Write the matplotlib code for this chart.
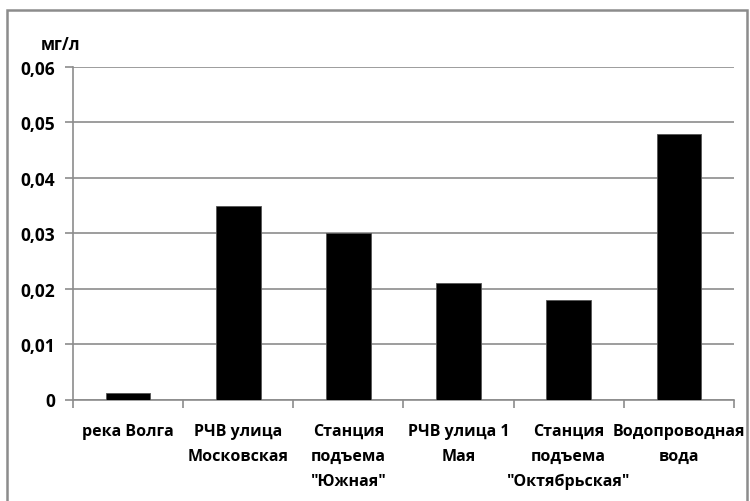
import matplotlib.pyplot as plt
import matplotlib.patches as patches
import numpy as np

# данные
places = ['река Волга', 'РЧВ улица\nМосковская', 'Станция\nподъема\n"Южная"',
          'РЧВ улица 1\nМая', 'Станция\nподъема\n"Октябрьская"', 'Водопроводная\nвода']
values = [0.0011, 0.035, 0.030, 0.021, 0.018, 0.048]
yticks = [0, 0.01, 0.02, 0.03, 0.04, 0.05, 0.06]
ytick_labels = ['0', '0,01', '0,02', '0,03', '0,04', '0,05', '0,06']

plt.rcParams['font.family'] = ['Open Sans', 'DejaVu Sans']
plt.rcParams['font.weight'] = 'bold'

fig = plt.figure(figsize=(7.5, 5.02), dpi=100)
ax = fig.add_axes([73 / 750, 1 - 400.5 / 502, (734 - 73) / 750, (400.5 - 68) / 502])

x = np.arange(len(places))
ax.bar(x, values, width=0.405, color='black', edgecolor='#555555', linewidth=0.6, zorder=3)

ax.set_xlim(-0.5, len(places) - 0.5)
ax.set_ylim(0, 0.06)
ax.set_yticks(yticks)
ax.set_yticklabels(ytick_labels, fontsize=12.5, fontweight='bold')
ax.yaxis.grid(True, color='#8c8c8c', linewidth=1.2)
ax.tick_params(axis='y', length=6, width=1.2, color='#8c8c8c', pad=7)

ax.set_xticks(x)
ax.set_xticklabels(places, fontsize=11.5, fontweight='bold', linespacing=1.75)
ax.tick_params(axis='x', which='major', length=0, pad=17)
ax.set_xticks(np.arange(len(places) + 1) - 0.5, minor=True)
ax.tick_params(axis='x', which='minor', length=6, width=1.2, color='#8c8c8c')

for s in ['top', 'right']:
    ax.spines[s].set_visible(False)
for s in ['left', 'bottom']:
    ax.spines[s].set_color('#8c8c8c')
    ax.spines[s].set_linewidth(1.2)
ax.set_axisbelow(True)

fig.text(61 / 750, 1 - 45 / 502, 'мг/л', ha='center', va='center', fontsize=12, fontweight='bold')

# рамка вокруг диаграммы
frame = patches.Rectangle((6.5 / 750, -0.05), 740.5 / 750, 1.05 - 10.5 / 502,
                          transform=fig.transFigure, fill=False, edgecolor='#8c8c8c',
                          linewidth=1.8, clip_on=False)
fig.patches.append(frame)

fig.savefig('out.png', dpi=100)
